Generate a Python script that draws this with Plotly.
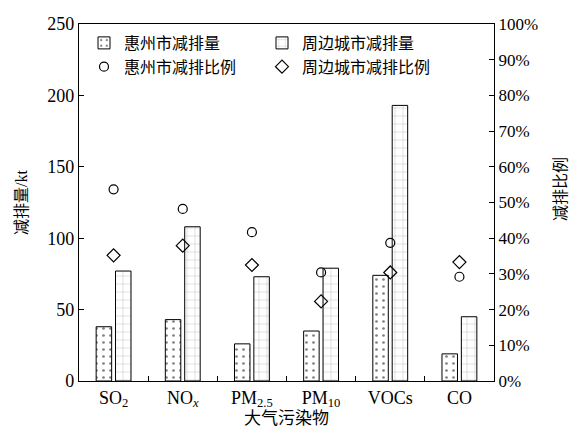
import plotly.graph_objects as go

categories = ["SO<sub>2</sub>", "NO<sub><i>x</i></sub>", "PM<sub>2.5</sub>", "PM<sub>10</sub>", "VOCs", "CO"]
huizhou_amount = [38, 43, 26, 35, 74, 19]
neighbor_amount = [77, 108, 73, 79, 193, 45]
huizhou_ratio = [0.537, 0.482, 0.417, 0.304, 0.387, 0.292]
neighbor_ratio = [0.352, 0.379, 0.325, 0.223, 0.304, 0.333]

FONT = "Liberation Serif, 'Noto Sans CJK SC', serif"

fig = go.Figure()
fig.add_trace(go.Bar(
    x=categories, y=huizhou_amount, name="惠州市减排量", legend="legend",
    marker=dict(color="white", line=dict(color="black", width=1),
                pattern=dict(shape=".", fgcolor="black", size=7, solidity=0.12)),
))
fig.add_trace(go.Bar(
    x=categories, y=neighbor_amount, name="周边城市减排量", legend="legend2",
    marker=dict(color="white", line=dict(color="black", width=1),
                pattern=dict(shape="+", fgcolor="#444", size=8, solidity=0.08)),
))
fig.add_trace(go.Scatter(
    x=categories, y=huizhou_ratio, name="惠州市减排比例", mode="markers", yaxis="y2",
    legend="legend",
    marker=dict(symbol="circle-open", size=9, color="black", line=dict(width=1.2)),
))
fig.add_trace(go.Scatter(
    x=categories, y=neighbor_ratio, name="周边城市减排比例", mode="markers", yaxis="y2",
    legend="legend2",
    marker=dict(symbol="diamond-open", size=10, color="black", line=dict(width=1.2)),
))

L, R, T, B = 79, 80, 24, 55
W, H = 574, 436
pw, ph = W - L - R, H - T - B

def px_x(x):
    return (x - L) / pw

def px_y(y):
    return 1 - (y - T) / ph

legend_common = dict(orientation="v", yanchor="top", xanchor="left",
                     bgcolor="rgba(0,0,0,0)", font=dict(size=16, family=FONT),
                     tracegroupgap=0, itemwidth=30)

fig.update_layout(
    width=W, height=H,
    margin=dict(l=L, r=R, t=T, b=B),
    plot_bgcolor="white", paper_bgcolor="white",
    font=dict(family=FONT, size=17, color="black"),
    barmode="group", bargap=0.44, bargroupgap=0.2,
    showlegend=True,
    legend=dict(x=px_x(84), y=px_y(26), **legend_common),
    legend2=dict(x=px_x(262), y=px_y(26), **legend_common),
    xaxis=dict(type="category", showline=True, linecolor="black", linewidth=1.2,
               mirror=True, ticks="inside", tickson="boundaries", ticklen=5,
               tickcolor="black", tickfont=dict(size=18)),
    yaxis=dict(range=[0, 250], dtick=50, showline=True, linecolor="black", linewidth=1.2,
               ticks="inside", ticklen=5, tickcolor="black", showgrid=False, zeroline=False,
               tickfont=dict(size=18)),
    yaxis2=dict(range=[0, 1], dtick=0.1, tickformat=".0%", overlaying="y", side="right",
                showline=True, linecolor="black", linewidth=1.2, ticks="inside", ticklen=5,
                tickcolor="black", showgrid=False, zeroline=False, tickfont=dict(size=17)),
    annotations=[
        dict(text="减排量/kt", xref="paper", yref="paper", x=px_x(21), y=px_y(202),
             textangle=-90, showarrow=False, font=dict(size=16), xanchor="center", yanchor="middle"),
        dict(text="减排比例", xref="paper", yref="paper", x=px_x(560), y=px_y(189),
             textangle=-90, showarrow=False, font=dict(size=16), xanchor="center", yanchor="middle"),
        dict(text="大气污染物", xref="paper", yref="paper", x=px_x(286), y=px_y(418),
             showarrow=False, font=dict(size=17), xanchor="center", yanchor="middle"),
    ],
)

fig.write_html("out.html", config={"displayModeBar": False},
               post_script="document.body.style.margin='0';document.body.style.padding='0';")
